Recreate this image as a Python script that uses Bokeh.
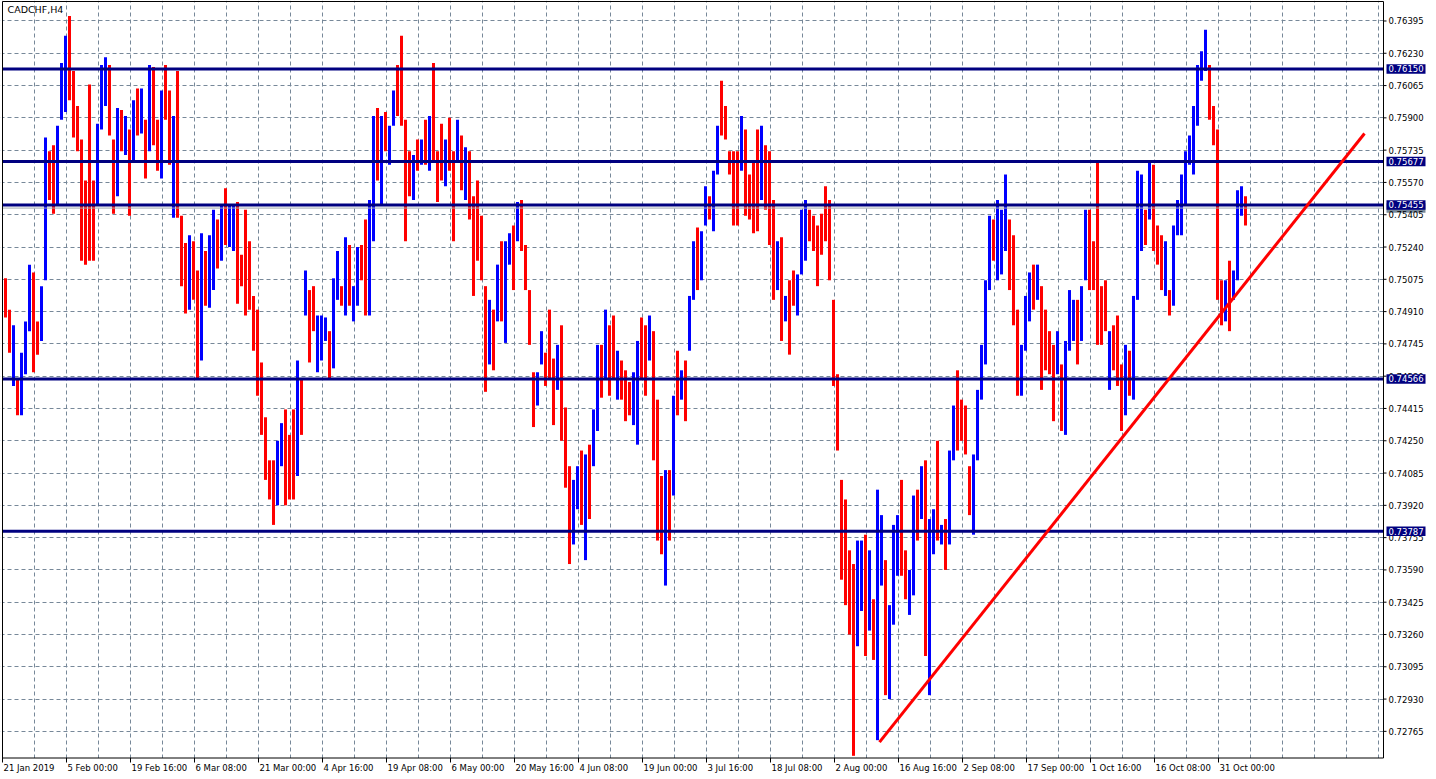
from bokeh.plotting import figure
from bokeh.models import Range1d, FixedTicker, Grid, ColumnDataSource
from bokeh.core.properties import value
from bokeh.embed import file_html
from bokeh.resources import INLINE

symbol_title = "CADCHF,H4"

# CADCHF H4 price path in groups of 4 bars (high / low / direction)
bar_high = [
    0.7508, 0.7492, 0.7484, 0.7456, 0.7470, 0.7486, 0.7515, 0.7511, 0.7486, 0.7504,
    0.7580, 0.7573, 0.7576, 0.7586, 0.7618, 0.7632, 0.7642, 0.7614, 0.7596, 0.7579,
    0.7558, 0.7607, 0.7558, 0.7587, 0.7617, 0.7621, 0.7617, 0.7579, 0.7595, 0.7594,
    0.7591, 0.7584, 0.7599, 0.7605, 0.7605, 0.7589, 0.7617, 0.7616, 0.7589, 0.7604,
    0.7617, 0.7604, 0.7591, 0.7614, 0.7540, 0.7526, 0.7530, 0.7527, 0.7512, 0.7531,
    0.7522, 0.7530, 0.7543, 0.7538, 0.7545, 0.7554, 0.7545, 0.7545, 0.7547, 0.7520,
    0.7543, 0.7527, 0.7499, 0.7492, 0.7465, 0.7437, 0.7415, 0.7415, 0.7425, 0.7434,
    0.7441, 0.7428, 0.7441, 0.7466, 0.7457, 0.7512, 0.7502, 0.7504, 0.7489, 0.7489,
    0.7488, 0.7481, 0.7508, 0.7522, 0.7504, 0.7529, 0.7525, 0.7504, 0.7524, 0.7525,
    0.7538, 0.7548, 0.7591, 0.7595, 0.7591, 0.7593, 0.7586, 0.7604, 0.7617, 0.7632,
    0.7589, 0.7573, 0.7571, 0.7579, 0.7579, 0.7589, 0.7591, 0.7618, 0.7573, 0.7587,
    0.7579, 0.7590, 0.7573, 0.7589, 0.7581, 0.7575, 0.7573, 0.7550, 0.7558, 0.7540,
    0.7504, 0.7497, 0.7492, 0.7515, 0.7527, 0.7527, 0.7531, 0.7535, 0.7547, 0.7548,
    0.7525, 0.7502, 0.7460, 0.7460, 0.7481, 0.7470, 0.7492, 0.7467, 0.7474, 0.7484,
    0.7442, 0.7412, 0.7405, 0.7412, 0.7420, 0.7418, 0.7423, 0.7441, 0.7474, 0.7474,
    0.7492, 0.7484, 0.7489, 0.7471, 0.7466, 0.7461, 0.7455, 0.7460, 0.7476, 0.7488,
    0.7484, 0.7489, 0.7481, 0.7446, 0.7407, 0.7410, 0.7410, 0.7448, 0.7471, 0.7461,
    0.7466, 0.7499, 0.7527, 0.7534, 0.7532, 0.7555, 0.7550, 0.7563, 0.7586, 0.7609,
    0.7596, 0.7573, 0.7573, 0.7573, 0.7591, 0.7584, 0.7561, 0.7568, 0.7584, 0.7586,
    0.7576, 0.7573, 0.7548, 0.7527, 0.7529, 0.7499, 0.7507, 0.7512, 0.7510, 0.7543,
    0.7548, 0.7543, 0.7540, 0.7535, 0.7541, 0.7555, 0.7548, 0.7497, 0.7459, 0.7405,
    0.7395, 0.7369, 0.7362, 0.7374, 0.7374, 0.7377, 0.7369, 0.7344, 0.7400, 0.7387,
    0.7364, 0.7341, 0.7382, 0.7387, 0.7405, 0.7369, 0.7359, 0.7397, 0.7400, 0.7412,
    0.7415, 0.7385, 0.7390, 0.7425, 0.7382, 0.7385, 0.7420, 0.7443, 0.7461, 0.7446,
    0.7443, 0.7412, 0.7418, 0.7451, 0.7474, 0.7507, 0.7540, 0.7538, 0.7548, 0.7543,
    0.7561, 0.7538, 0.7530, 0.7492, 0.7474, 0.7499, 0.7511, 0.7515, 0.7515, 0.7504,
    0.7492, 0.7481, 0.7474, 0.7481, 0.7464, 0.7476, 0.7502, 0.7497, 0.7497, 0.7504,
    0.7543, 0.7543, 0.7527, 0.7568, 0.7504, 0.7507, 0.7481, 0.7484, 0.7489, 0.7464,
    0.7474, 0.7471, 0.7499, 0.7563, 0.7561, 0.7543, 0.7567, 0.7566, 0.7535, 0.7530,
    0.7527, 0.7502, 0.7535, 0.7548, 0.7561, 0.7573, 0.7581, 0.7596, 0.7617, 0.7624,
    0.7635, 0.7617, 0.7596, 0.7584, 0.7507, 0.7507, 0.7517, 0.7512, 0.7553, 0.7555,
    0.7550,
]
bar_low = [
    0.7488, 0.7470, 0.7453, 0.7438, 0.7438, 0.7459, 0.7481, 0.7460, 0.7469, 0.7476,
    0.7507, 0.7548, 0.7541, 0.7545, 0.7589, 0.7593, 0.7599, 0.7580, 0.7573, 0.7517,
    0.7515, 0.7517, 0.7517, 0.7545, 0.7584, 0.7596, 0.7581, 0.7541, 0.7550, 0.7573,
    0.7571, 0.7540, 0.7567, 0.7581, 0.7582, 0.7559, 0.7573, 0.7576, 0.7563, 0.7559,
    0.7589, 0.7566, 0.7539, 0.7539, 0.7504, 0.7490, 0.7492, 0.7497, 0.7457, 0.7466,
    0.7494, 0.7493, 0.7502, 0.7513, 0.7517, 0.7525, 0.7524, 0.7522, 0.7495, 0.7504,
    0.7489, 0.7492, 0.7471, 0.7448, 0.7428, 0.7405, 0.7395, 0.7382, 0.7392, 0.7412,
    0.7392, 0.7395, 0.7395, 0.7407, 0.7428, 0.7489, 0.7465, 0.7481, 0.7460, 0.7466,
    0.7476, 0.7457, 0.7462, 0.7497, 0.7494, 0.7489, 0.7494, 0.7486, 0.7494, 0.7507,
    0.7489, 0.7489, 0.7527, 0.7558, 0.7545, 0.7573, 0.7566, 0.7586, 0.7591, 0.7586,
    0.7527, 0.7550, 0.7548, 0.7563, 0.7566, 0.7566, 0.7563, 0.7568, 0.7547, 0.7558,
    0.7555, 0.7563, 0.7527, 0.7568, 0.7553, 0.7548, 0.7538, 0.7499, 0.7517, 0.7507,
    0.7450, 0.7464, 0.7461, 0.7486, 0.7486, 0.7475, 0.7515, 0.7502, 0.7527, 0.7522,
    0.7502, 0.7474, 0.7432, 0.7443, 0.7464, 0.7453, 0.7456, 0.7433, 0.7451, 0.7425,
    0.7401, 0.7362, 0.7372, 0.7390, 0.7382, 0.7364, 0.7385, 0.7412, 0.7430, 0.7447,
    0.7456, 0.7448, 0.7456, 0.7446, 0.7446, 0.7435, 0.7438, 0.7433, 0.7423, 0.7456,
    0.7448, 0.7466, 0.7415, 0.7374, 0.7367, 0.7351, 0.7374, 0.7397, 0.7438, 0.7446,
    0.7435, 0.7471, 0.7497, 0.7502, 0.7507, 0.7535, 0.7538, 0.7532, 0.7561, 0.7581,
    0.7579, 0.7561, 0.7535, 0.7535, 0.7563, 0.7540, 0.7538, 0.7531, 0.7532, 0.7548,
    0.7543, 0.7525, 0.7497, 0.7502, 0.7476, 0.7486, 0.7469, 0.7494, 0.7489, 0.7510,
    0.7517, 0.7527, 0.7522, 0.7504, 0.7520, 0.7527, 0.7507, 0.7453, 0.7420, 0.7354,
    0.7341, 0.7326, 0.7264, 0.7320, 0.7338, 0.7315, 0.7328, 0.7313, 0.7272, 0.7351,
    0.7295, 0.7293, 0.7331, 0.7356, 0.7356, 0.7344, 0.7336, 0.7346, 0.7374, 0.7385,
    0.7315, 0.7295, 0.7367, 0.7374, 0.7372, 0.7359, 0.7372, 0.7415, 0.7420, 0.7425,
    0.7418, 0.7387, 0.7377, 0.7415, 0.7446, 0.7464, 0.7502, 0.7517, 0.7507, 0.7510,
    0.7522, 0.7502, 0.7484, 0.7448, 0.7448, 0.7471, 0.7486, 0.7492, 0.7497, 0.7451,
    0.7461, 0.7459, 0.7435, 0.7459, 0.7430, 0.7428, 0.7471, 0.7476, 0.7464, 0.7476,
    0.7507, 0.7502, 0.7502, 0.7474, 0.7474, 0.7481, 0.7451, 0.7461, 0.7453, 0.7430,
    0.7438, 0.7448, 0.7446, 0.7497, 0.7522, 0.7525, 0.7538, 0.7522, 0.7515, 0.7502,
    0.7499, 0.7489, 0.7494, 0.7530, 0.7530, 0.7545, 0.7566, 0.7561, 0.7586, 0.7609,
    0.7614, 0.7589, 0.7576, 0.7497, 0.7484, 0.7486, 0.7481, 0.7497, 0.7507, 0.7540,
    0.7535,
]
# U = up bar (blue), D = down bar (red)
bar_dir = "".join([
    "DDUDUUUDDU", "UDDUUUDDDD", "DDDUUUDDUD", "UDUDUDUDDU", "DDUDDDUDDU",
    "DUUDUDUUDD", "DDDDDDDDUU", "DDDUDUDDUU", "UDUUDUDUUD", "DUUDUDUUDD",
    "DDUDUDUDDD", "UDDUDUDDDD", "DUDUDUUDUD", "DDDUUDDDUD", "DDUUDUDUUD",
    "UDDUDDDUUD", "DUDDDUDUDU", "DUUDUUDUUD", "DDDDUDDDDU", "DDDUDUDDUU",
    "UDDDDDDDDD", "DDDUUDUDUU", "DUUUDDUUDU", "DUUDUDUUDD", "DDUUUUUDUU",
    "UDDDUUUDUD", "DDDUDUUUDU", "UDDDDDUDDD", "UDUUUDUDDD", "UDUUUUUUUU",
    "UDDDDUDUUUD",
])

date_labels = [
    "21 Jan 2019", "5 Feb 00:00", "19 Feb 16:00", "6 Mar 08:00", "21 Mar 00:00",
    "4 Apr 16:00", "19 Apr 08:00", "6 May 00:00", "20 May 16:00", "4 Jun 08:00",
    "19 Jun 00:00", "3 Jul 16:00", "18 Jul 08:00", "2 Aug 00:00", "16 Aug 16:00",
    "2 Sep 08:00", "17 Sep 00:00", "1 Oct 16:00", "16 Oct 08:00", "31 Oct 00:00",
]
price_ticks = [
    0.72765, 0.72930, 0.73095, 0.73260, 0.73425, 0.73590, 0.73755, 0.73920,
    0.74085, 0.74250, 0.74415, 0.74580, 0.74745, 0.74910, 0.75075, 0.75240,
    0.75405, 0.75570, 0.75735, 0.75900, 0.76065, 0.76230, 0.76395,
]
level_prices = [0.76150, 0.75677, 0.75455, 0.74566, 0.73787]
bid_price = 0.75439
trend_x = [877, 1362]          # bar index of the trendline ends
trend_y = [0.7271, 0.7582]

# ---------------- layout (positions / styles, not data) ----------------
W, H = 1436, 779
X_START, X_END = -2, 1434                 # 1 bar = 1 px
Y_BOTTOM, Y_TOP = 0.725190, 0.764997
PX_Y = (Y_TOP - Y_BOTTOM) / H             # price per pixel


def py(pix):
    """price at a given pixel row from the top"""
    return Y_TOP - pix * PX_Y


BARS_PER_ENTRY = 4
BARS_PER_LABEL = 64
CH_LEFT, CH_RIGHT = 0, 1381               # chart frame, in bars
CH_TOP, CH_BOTTOM = py(1), py(757.5)
FONT = "DejaVu Sans"
GRID = "#778899"
NAVY = "#000080"
DASH = "4 3"

bar_x = [BARS_PER_ENTRY * i + 3 for i in range(len(bar_high))]
bar_color = ["#0000FF" if d == "U" else "#FF0000" for d in bar_dir]
date_ticks = [BARS_PER_LABEL * k for k in range(len(date_labels))]
grid_x = list(range(0, CH_RIGHT, BARS_PER_LABEL // 2))

p = figure(width=W, height=H, x_range=Range1d(X_START, X_END),
           y_range=Range1d(Y_BOTTOM, Y_TOP), x_axis_type=None, y_axis_type=None,
           toolbar_location=None, output_backend="svg",
           min_border=0, min_border_left=0, min_border_right=0,
           min_border_top=0, min_border_bottom=0)
p.outline_line_color = None
p.background_fill_color = "white"
p.border_fill_color = "white"

p.add_layout(Grid(dimension=0, ticker=FixedTicker(ticks=grid_x),
                  grid_line_color=GRID, grid_line_dash=DASH, grid_line_width=1))
p.add_layout(Grid(dimension=1, ticker=FixedTicker(ticks=price_ticks),
                  grid_line_color=GRID, grid_line_dash=DASH, grid_line_width=1))

# price bars
src = ColumnDataSource(dict(x=bar_x, hi=bar_high, lo=bar_low, color=bar_color))
p.segment(x0="x", y0="lo", x1="x", y1="hi", color="color", line_width=3, source=src)

# horizontal levels and bid line
nl = len(level_prices)
p.segment(x0=[CH_LEFT] * nl, x1=[CH_RIGHT] * nl, y0=level_prices, y1=level_prices,
          line_color=NAVY, line_width=3)
p.segment(x0=[CH_LEFT], x1=[CH_RIGHT], y0=[bid_price], y1=[bid_price],
          line_color="#A0A8B0", line_width=1)

# trendline
p.line(trend_x, trend_y, line_color="#FF0000", line_width=3)

# white margins outside the chart frame (price scale and time scale areas)
p.quad(left=[CH_RIGHT, X_START - 5, X_START - 5, X_START - 5],
       right=[X_END + 5, X_END + 5, CH_LEFT, X_END + 5],
       top=[Y_TOP + 0.001, CH_BOTTOM, Y_TOP + 0.001, Y_TOP + 0.001],
       bottom=[Y_BOTTOM - 0.001, Y_BOTTOM - 0.001, Y_BOTTOM - 0.001, CH_TOP],
       fill_color="white", line_color=None)

# chart frame
p.quad(left=[CH_LEFT], right=[CH_RIGHT], top=[CH_TOP], bottom=[CH_BOTTOM],
       fill_color=None, line_color="black", line_width=1)

# price scale: ticks + labels
npt = len(price_ticks)
p.segment(x0=[CH_RIGHT] * npt, x1=[CH_RIGHT + 3] * npt, y0=price_ticks, y1=price_ticks,
          line_color="black", line_width=1)
BOX_H = 9.5 * PX_Y
p.quad(left=[CH_RIGHT + 3], right=[CH_RIGHT + 42], top=[bid_price + BOX_H / 2],
       bottom=[bid_price - BOX_H / 2], fill_color=GRID, line_color=None)
p.text(x=[CH_RIGHT + 5] * npt, y=price_ticks, text=[f"{v:.5f}" for v in price_ticks],
       text_font=value(FONT), text_font_size=value("8.5px"), text_color="black",
       text_align="left", text_baseline="middle")

# level labels (navy boxes)
p.quad(left=[CH_RIGHT + 3] * nl, right=[CH_RIGHT + 42] * nl,
       top=[v + BOX_H / 2 for v in level_prices],
       bottom=[v - BOX_H / 2 for v in level_prices], fill_color=NAVY, line_color=None)
p.text(x=[CH_RIGHT + 5] * nl, y=level_prices, text=[f"{v:.5f}" for v in level_prices],
       text_font=value(FONT), text_font_size=value("8.5px"), text_color="white",
       text_align="left", text_baseline="middle")

# time scale: ticks + left-aligned labels
nd = len(date_ticks)
p.segment(x0=date_ticks, x1=date_ticks, y0=[CH_BOTTOM] * nd, y1=[py(762)] * nd,
          line_color="black", line_width=1)
p.text(x=[t + 1 for t in date_ticks], y=[py(767)] * nd, text=date_labels,
       text_font=value(FONT), text_font_size=value("8.5px"), text_color="black",
       text_align="left", text_baseline="middle")

# chart title
p.text(x=[CH_LEFT + 5], y=[py(8.5)], text=[symbol_title], text_font=value(FONT),
       text_font_size=value("9.5px"), text_color="black", text_align="left",
       text_baseline="middle")

open("out.html", "w").write(file_html(p, INLINE))
